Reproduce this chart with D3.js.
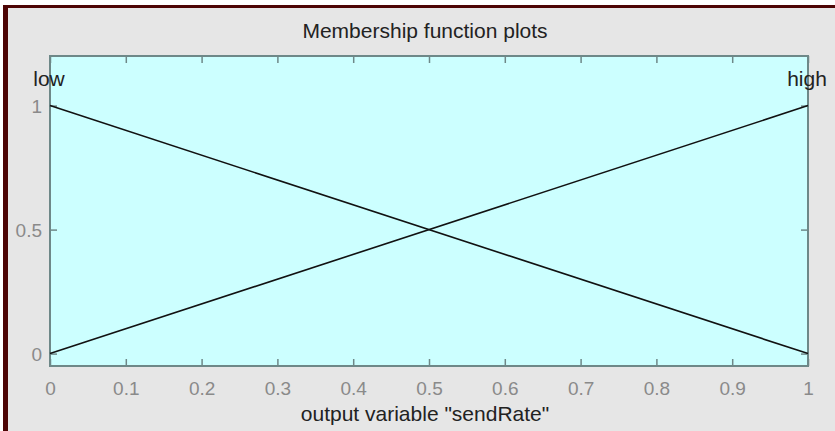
<!DOCTYPE html>
<html><head><meta charset="utf-8">
<script src="https://cdn.jsdelivr.net/npm/d3@7"></script>
<style>
html,body{margin:0;padding:0;background:#ffffff;}
svg{display:block;}
text{font-family:"Liberation Sans",Arial,sans-serif;}
</style></head>
<body>
<svg id="chart" width="835" height="431"></svg>
<script>
// ---- data ----
const xPoints = [0, 1];
const lowValues = [1, 0];
const highValues = [0, 1];
const mfNames = ["low", "high"];
const mfPeaks = [0, 1];
const xTicks = [0, 0.1, 0.2, 0.3, 0.4, 0.5, 0.6, 0.7, 0.8, 0.9, 1];
const xTickLabels = ["0", "0.1", "0.2", "0.3", "0.4", "0.5", "0.6", "0.7", "0.8", "0.9", "1"];
const yTicks = [0, 0.5, 1];
const yTickLabels = ["0", "0.5", "1"];
const titleText = "Membership function plots";
const xLabelText = "output variable \"sendRate\"";

const svg = d3.select("#chart");
const W = 835, H = 431;
const plot = {left: 50, right: 808, top: 56, bottom: 366};

// frame
svg.append("rect").attr("x", 3).attr("y", 5).attr("width", W - 3).attr("height", H - 5).attr("fill", "#4d0404");
svg.append("rect").attr("x", 8).attr("y", 8).attr("width", W - 8).attr("height", H - 8).attr("fill", "#e6e6e6");

const x = d3.scaleLinear().domain([0, 1]).range([plot.left, plot.right]);
const y = d3.scaleLinear().domain([-0.05, 1.2]).range([plot.bottom, plot.top]);

// plot background
svg.append("rect")
  .attr("x", x(0)).attr("y", y(1.2))
  .attr("width", x(1) - x(0)).attr("height", y(-0.05) - y(1.2))
  .attr("fill", "#ccffff");

const axisColor = "#6e8888";
const tickLen = 7;

function styleAxis(g) {
  g.select(".domain").remove();
  g.selectAll(".tick line").attr("stroke", axisColor).attr("stroke-width", 1.5);
}

// bottom axis with labels
const gx = svg.append("g").attr("transform", `translate(0,${plot.bottom})`)
  .call(d3.axisBottom(x).tickValues(xTicks).tickSize(-tickLen).tickPadding(tickLen + 15)
    .tickFormat((d, i) => xTickLabels[i]));
styleAxis(gx);
gx.selectAll(".tick text").attr("fill", "#8a8a8a").attr("font-size", 19)
  .attr("font-family", "Liberation Sans, Arial, sans-serif").attr("dy", 0).attr("y", 29);

// top axis (ticks only)
const gxt = svg.append("g").attr("transform", `translate(0,${plot.top})`)
  .call(d3.axisTop(x).tickValues(xTicks).tickSize(-tickLen).tickFormat(""));
styleAxis(gxt);

// left axis with labels
const gy = svg.append("g").attr("transform", `translate(${plot.left},0)`)
  .call(d3.axisLeft(y).tickValues(yTicks).tickSize(-tickLen).tickPadding(8)
    .tickFormat((d, i) => yTickLabels[i]));
styleAxis(gy);
gy.selectAll(".tick text").attr("fill", "#8a8a8a").attr("font-size", 19)
  .attr("font-family", "Liberation Sans, Arial, sans-serif").attr("x", -8).attr("dy", "0.35em");

// right axis ticks only
const gyr = svg.append("g").attr("transform", `translate(${plot.right},0)`)
  .call(d3.axisRight(y).tickValues(yTicks).tickSize(-tickLen).tickFormat(""));
styleAxis(gyr);

// box
svg.append("rect")
  .attr("x", x(0)).attr("y", y(1.2))
  .attr("width", x(1) - x(0)).attr("height", y(-0.05) - y(1.2))
  .attr("fill", "none").attr("stroke", axisColor).attr("stroke-width", 2);

// membership lines
const line = d3.line().x((d, i) => x(xPoints[i])).y(d => y(d));
[lowValues, highValues].forEach(vals => {
  svg.append("path").datum(vals)
    .attr("d", line)
    .attr("fill", "none").attr("stroke", "#111").attr("stroke-width", 1.6);
});

// mf names
mfNames.forEach((n, i) => {
  svg.append("text").attr("x", x(mfPeaks[i]) - 1).attr("y", y(1) - 20)
    .attr("text-anchor", "middle").attr("font-size", 21).attr("fill", "#222")
    .text(n);
});

// title and label
svg.append("text").attr("x", 425).attr("y", 38).attr("text-anchor", "middle")
  .attr("font-size", 21).attr("fill", "#222").text(titleText);
svg.append("text").attr("x", 425).attr("y", 421).attr("text-anchor", "middle")
  .attr("font-size", 21).attr("fill", "#222").text(xLabelText);
</script>
</body></html>
